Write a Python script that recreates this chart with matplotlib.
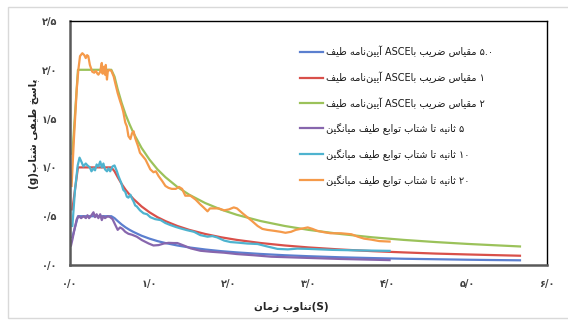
import matplotlib
matplotlib.use("Agg")
import matplotlib.pyplot as plt
from matplotlib.patches import Rectangle

# ---------------- data ----------------
period_asce = [0.03, 0.1, 0.52, 0.56, 0.6, 0.65, 0.7, 0.75, 0.8, 0.9, 1.0, 1.1, 1.2, 1.35,
               1.5, 1.7, 1.9, 2.1, 2.4, 2.7, 3.0, 3.4, 3.8, 4.2, 4.6, 5.0, 5.3, 5.66]
asce_05 = [0.285, 0.5, 0.5, 0.48, 0.45, 0.415, 0.385, 0.36, 0.338, 0.30, 0.27, 0.245, 0.225, 0.20,
           0.18, 0.159, 0.142, 0.129, 0.113, 0.10, 0.09, 0.079, 0.071, 0.064, 0.059, 0.054, 0.051, 0.048]
asce_1 = [0.57, 1.0, 1.0, 0.96, 0.90, 0.83, 0.77, 0.72, 0.675, 0.60, 0.54, 0.49, 0.45, 0.40,
          0.36, 0.318, 0.284, 0.257, 0.225, 0.20, 0.18, 0.159, 0.142, 0.129, 0.117, 0.108, 0.102, 0.095]
asce_2 = [1.14, 2.0, 2.0, 1.93, 1.80, 1.66, 1.54, 1.44, 1.35, 1.20, 1.08, 0.98, 0.90, 0.80,
          0.72, 0.635, 0.568, 0.514, 0.45, 0.40, 0.36, 0.318, 0.284, 0.257, 0.235, 0.216, 0.204, 0.19]

period_5s = [0.013, 0.03, 0.055, 0.085, 0.11, 0.14, 0.17, 0.20, 0.22, 0.24, 0.27, 0.295, 0.315, 0.335,
             0.357, 0.38, 0.40, 0.42, 0.44, 0.475, 0.505, 0.535, 0.57, 0.60, 0.63, 0.66, 0.695, 0.735,
             0.78, 0.84, 0.905, 0.99, 1.05, 1.115, 1.18, 1.24, 1.30, 1.35, 1.43, 1.52, 1.64, 1.77,
             1.94, 2.1, 2.31, 2.53, 2.9, 3.4, 4.02]
avg_5s = [0.20, 0.26, 0.36, 0.47, 0.50, 0.48, 0.50, 0.48, 0.51, 0.48, 0.51, 0.54, 0.49, 0.52,
          0.48, 0.52, 0.46, 0.50, 0.48, 0.50, 0.49, 0.47, 0.41, 0.36, 0.385, 0.37, 0.34, 0.32,
          0.31, 0.29, 0.255, 0.22, 0.20, 0.204, 0.22, 0.227, 0.225, 0.225, 0.20, 0.17, 0.146, 0.136,
          0.126, 0.112, 0.10, 0.085, 0.075, 0.062, 0.05]

period_10s = [0.03, 0.063, 0.097, 0.12, 0.148, 0.168, 0.198, 0.22, 0.25, 0.27, 0.295, 0.315, 0.335,
              0.357, 0.38, 0.40, 0.42, 0.44, 0.465, 0.485, 0.505, 0.535, 0.56, 0.59, 0.61, 0.645,
              0.67, 0.695, 0.715, 0.735, 0.76, 0.78, 0.80, 0.82, 0.84, 0.88, 0.925, 0.97, 1.01,
              1.07, 1.14, 1.20, 1.26, 1.33, 1.39, 1.47, 1.56, 1.64, 1.73, 1.79, 1.85, 1.94, 2.02,
              2.10, 2.23, 2.36, 2.48, 2.61, 2.74, 2.86, 3.0, 3.3, 3.6, 4.02]
avg_10s = [0.40, 0.77, 1.02, 1.10, 1.05, 1.01, 1.04, 1.02, 1.00, 0.96, 0.99, 0.97, 1.03,
           1.01, 1.06, 1.00, 1.04, 0.98, 0.96, 0.99, 0.96, 1.01, 1.02, 0.96, 0.91, 0.84,
           0.77, 0.75, 0.70, 0.69, 0.72, 0.68, 0.65, 0.61, 0.60, 0.56, 0.53, 0.52, 0.49,
           0.47, 0.46, 0.43, 0.41, 0.39, 0.375, 0.357, 0.34, 0.306, 0.29, 0.296, 0.283, 0.25, 0.235,
           0.23, 0.22, 0.215, 0.19, 0.165, 0.16, 0.168, 0.165, 0.155, 0.15, 0.145]

period_20s = [0.02, 0.05, 0.085, 0.105, 0.126, 0.155, 0.18, 0.198, 0.215, 0.23, 0.25, 0.28, 0.305,
              0.325, 0.345, 0.357, 0.38, 0.39, 0.40, 0.41, 0.42, 0.44, 0.45, 0.465, 0.475, 0.49,
              0.52, 0.55, 0.57, 0.60, 0.63, 0.65, 0.67, 0.695, 0.715, 0.735, 0.76, 0.78, 0.80,
              0.82, 0.855, 0.88, 0.95, 1.01, 1.05, 1.08, 1.115, 1.16, 1.20, 1.24, 1.28, 1.33,
              1.37, 1.41, 1.45, 1.515, 1.58, 1.64, 1.68, 1.73, 1.76, 1.81, 1.87, 1.94, 2.0, 2.06,
              2.1, 2.17, 2.23, 2.29, 2.36, 2.42, 2.48, 2.57, 2.65, 2.71, 2.78, 2.84, 2.90, 2.99,
              3.05, 3.11, 3.20, 3.28, 3.41, 3.54, 3.62, 3.70, 3.79, 3.89, 4.02]
avg_20s = [0.81, 1.30, 1.80, 2.0, 2.14, 2.17, 2.15, 2.12, 2.15, 2.14, 2.05, 1.98, 1.97,
           1.99, 1.96, 1.95, 1.98, 2.03, 2.07, 1.96, 2.03, 1.95, 2.05, 1.90, 1.98, 2.0,
           1.99, 1.93, 1.86, 1.76, 1.68, 1.63, 1.57, 1.46, 1.42, 1.32, 1.29, 1.35, 1.37,
           1.30, 1.22, 1.15, 1.08, 0.98, 0.95, 0.96, 0.91, 0.86, 0.81, 0.79, 0.78, 0.78,
           0.80, 0.78, 0.71, 0.71, 0.67, 0.62, 0.59, 0.55, 0.58, 0.58, 0.58, 0.56, 0.57, 0.59,
           0.58, 0.53, 0.49, 0.45, 0.40, 0.37, 0.36, 0.35, 0.34, 0.33, 0.34, 0.36, 0.37, 0.385,
           0.37, 0.35, 0.335, 0.325, 0.325, 0.315, 0.29, 0.27, 0.26, 0.245, 0.24]

x_ticks = [0, 1, 2, 3, 4, 5, 6]
x_tick_labels = ["۰/۰", "۱/۰", "۲/۰", "۳/۰", "۴/۰", "۵/۰", "۶/۰"]
y_ticks = [0, 0.5, 1.0, 1.5, 2.0, 2.5]
y_tick_labels = ["۰/۰", "۰/۵", "۱/۰", "۱/۵", "۲/۰", "۲/۵"]

# ---------------- minimal Persian shaping (presentation forms) ----------------
FORMS = {  # isolated, final, initial, medial
    'ا': ('\uFE8D', '\uFE8E', None, None),
    'آ': ('\uFE81', '\uFE82', None, None),
    'ب': ('\uFE8F', '\uFE90', '\uFE91', '\uFE92'),
    'پ': ('\uFB56', '\uFB57', '\uFB58', '\uFB59'),
    'ت': ('\uFE95', '\uFE96', '\uFE97', '\uFE98'),
    'ث': ('\uFE99', '\uFE9A', '\uFE9B', '\uFE9C'),
    'خ': ('\uFEA5', '\uFEA6', '\uFEA7', '\uFEA8'),
    'ر': ('\uFEAD', '\uFEAE', None, None),
    'ز': ('\uFEAF', '\uFEB0', None, None),
    'س': ('\uFEB1', '\uFEB2', '\uFEB3', '\uFEB4'),
    'ش': ('\uFEB5', '\uFEB6', '\uFEB7', '\uFEB8'),
    'ض': ('\uFEBD', '\uFEBE', '\uFEBF', '\uFEC0'),
    'ط': ('\uFEC1', '\uFEC2', '\uFEC3', '\uFEC4'),
    'ع': ('\uFEC9', '\uFECA', '\uFECB', '\uFECC'),
    'ف': ('\uFED1', '\uFED2', '\uFED3', '\uFED4'),
    'ق': ('\uFED5', '\uFED6', '\uFED7', '\uFED8'),
    'گ': ('\uFB92', '\uFB93', '\uFB94', '\uFB95'),
    'م': ('\uFEE1', '\uFEE2', '\uFEE3', '\uFEE4'),
    'ن': ('\uFEE5', '\uFEE6', '\uFEE7', '\uFEE8'),
    'ه': ('\uFEE9', '\uFEEA', '\uFEEB', '\uFEEC'),
    'و': ('\uFEED', '\uFEEE', None, None),
    'ی': ('\uFBFC', '\uFBFD', '\uFBFE', '\uFBFF'),
}


def shape(word):
    """Return the visual (left-to-right) glyph sequence of one Persian word."""
    out = []
    n = len(word)
    for i, ch in enumerate(word):
        if ch not in FORMS:
            if ch != '\u200c':
                out.append(ch)
            continue
        iso, fin, ini, med = FORMS[ch]
        prev = word[i - 1] if i > 0 else None
        nxt = word[i + 1] if i + 1 < n else None
        join_prev = prev in FORMS and FORMS[prev][2] is not None
        join_next = ini is not None and nxt in FORMS
        if join_prev and join_next:
            g = med
        elif join_prev:
            g = fin
        elif join_next:
            g = ini
        else:
            g = iso
        out.append(g)
    return ''.join(reversed(out))


def line(*parts):
    return ''.join(shape(p) if any(c in FORMS for c in p) else p for p in parts)


asce_label = lambda num: line('طیف', ' ', 'آیین\u200cنامه', ' ASCE', 'با', ' ', 'ضریب', ' ', 'مقیاس', ' ' + num)
avg_label = lambda num: line('میانگین', ' ', 'طیف', ' ', 'توابع', ' ', 'شتاب', ' ', 'تا', ' ', 'ثانیه', ' ' + num)
labels = [asce_label('۵.۰'), asce_label('۱'), asce_label('۲'),
          avg_label('۵'), avg_label('۱۰'), avg_label('۲۰')]
x_title = line('زمان', ' ', 'تناوب', '(S)')
y_title = line('(g)', 'شتاب', ' ', 'طیفی', ' ', 'پاسخ')

# ---------------- figure ----------------
plt.rcParams['font.family'] = ['DejaVu Sans']
W, H = 568, 325
fig = plt.figure(figsize=(W / 100, H / 100), dpi=100)
fig.patch.set_facecolor('white')
fig.patches.append(Rectangle((8 / W, 7 / H), 1.2, 1 - 14 / H, transform=fig.transFigure,
                             fill=False, edgecolor='#d9d9d9', linewidth=1.0))

ax = fig.add_axes([70 / W, 1 - 265 / H, (547 - 70) / W, (265 - 21) / H])

colors = ['#5b7fcf', '#d9504a', '#9bc25a', '#8766ad', '#4eb3cf', '#f59a4a']
series = [(period_asce, asce_05), (period_asce, asce_1), (period_asce, asce_2),
          (period_5s, avg_5s), (period_10s, avg_10s), (period_20s, avg_20s)]
for (t, v), c, lab in zip(series, colors, labels):
    ax.plot(t, v, color=c, lw=1.6, label=lab, solid_joinstyle='round')

ax.set_xlim(0, 6)
ax.set_ylim(0, 2.5)
ax.set_xticks(x_ticks)
ax.set_xticklabels(x_tick_labels)
ax.set_yticks(y_ticks)
ax.set_yticklabels(y_tick_labels)
ax.tick_params(length=0, labelsize=7, colors='#404040')
ax.tick_params(axis='x', pad=10)
ax.tick_params(axis='y', pad=9)
for lbl in ax.get_xticklabels() + ax.get_yticklabels():
    lbl.set_fontweight('bold')

for s in ['left', 'bottom']:
    ax.spines[s].set_color('#595959')
    ax.spines[s].set_linewidth(1.8)
for s in ['top', 'right']:
    ax.spines[s].set_color('#000000')
    ax.spines[s].set_linewidth(1.0)

leg = ax.legend(loc='upper left', bbox_to_anchor=(300 / W, 1 - 46 / H),
                bbox_transform=fig.transFigure, frameon=False, fontsize=7,
                handlelength=2.4, handletextpad=0.3, labelspacing=1.45,
                borderpad=0, borderaxespad=0)
for txt in leg.get_texts():
    txt.set_color('#1a1a1a')

fig.text(291 / W, 1 - 307 / H, x_title, ha='center', va='center', fontsize=7.5,
         fontweight='bold', color='#262626')
fig.text(34 / W, 1 - 134 / H, y_title, ha='center', va='center', rotation=90,
         fontsize=7.5, fontweight='bold', color='#262626')

fig.savefig('out.png', dpi=100, facecolor='white')
